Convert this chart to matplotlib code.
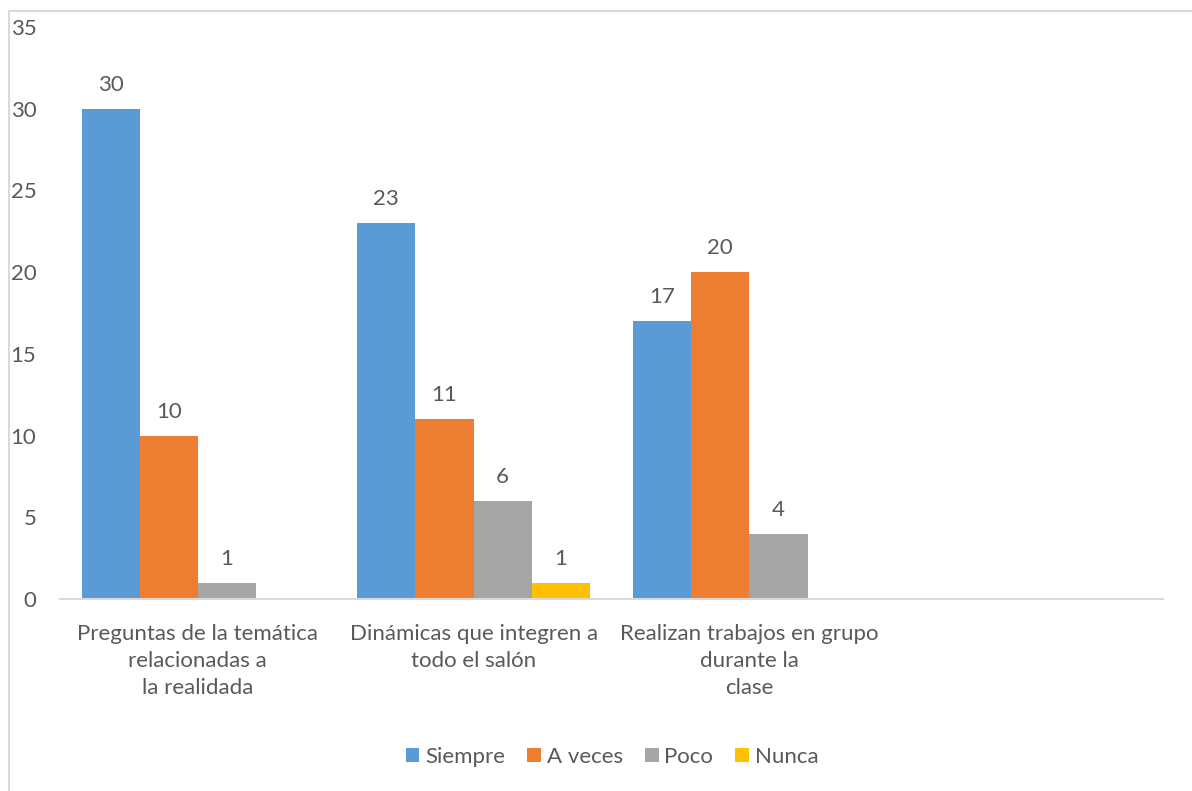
import matplotlib.pyplot as plt
from matplotlib.patches import Rectangle

categories = ["Preguntas de la temática\nrelacionadas a\nla realidada",
              "Dinámicas que integren a\ntodo el salón",
              "Realizan trabajos en grupo\ndurante la\nclase",
              ""]
series_names = ["Siempre", "A veces", "Poco", "Nunca"]
siempre = [30, 23, 17, 0]
a_veces = [10, 11, 20, 0]
poco = [1, 6, 4, 0]
nunca = [0, 1, 0, 0]
colors = ["#5B9BD5", "#ED7D31", "#A5A5A5", "#FFC000"]

plt.rcParams["font.family"] = ["Lato", "DejaVu Sans"]
text_color = "#595959"
fs = 16

fig = plt.figure(figsize=(11.92, 7.91), dpi=100)
# chart frame (partially visible)
fig.patches.append(Rectangle((9 / 1192, -0.1), 1.2, 1 - 11 / 791 + 0.1,
                             transform=fig.transFigure, fill=False,
                             edgecolor="#D9D9D9", linewidth=1.5))

ax = fig.add_axes([60 / 1192, 192 / 791, (1163 - 60) / 1192, (764 - 192) / 791])

width = 0.211
all_series = [siempre, a_veces, poco, nunca]
x = range(len(categories))
for idx, (name, vals) in enumerate(zip(series_names, all_series)):
    offsets = [i + (idx - 1.5) * width for i in x]
    bars = ax.bar(offsets, vals, width, color=colors[idx], label=name)
    for b, v in zip(bars, vals):
        if v > 0:
            ax.text(b.get_x() + b.get_width() / 2, v + 0.85, str(v),
                    ha="center", va="bottom", fontsize=fs, color=text_color)

ax.set_xlim(-0.5, 3.5)
ax.set_ylim(0, 35)
ax.set_yticks(range(0, 36, 5))
ax.set_xticks(list(x))
ax.set_xticklabels(categories, fontsize=fs, color=text_color, linespacing=1.45)
ax.tick_params(axis="y", length=0, labelsize=fs, labelcolor=text_color, pad=17)
ax.tick_params(axis="x", length=0, pad=18)
for lbl in ax.get_yticklabels():
    lbl.set_horizontalalignment("right")
for s in ["top", "right", "left"]:
    ax.spines[s].set_visible(False)
ax.spines["bottom"].set_color("#D9D9D9")
ax.spines["bottom"].set_linewidth(1.5)

leg = fig.legend(loc="center", bbox_to_anchor=(612 / 1192, 1 - 757 / 791), ncol=4,
                 frameon=False, fontsize=fs, handlelength=0.62, handleheight=0.62,
                 handletextpad=0.25, columnspacing=1.0)
for t in leg.get_texts():
    t.set_color(text_color)

fig.savefig("out.png", dpi=100)
